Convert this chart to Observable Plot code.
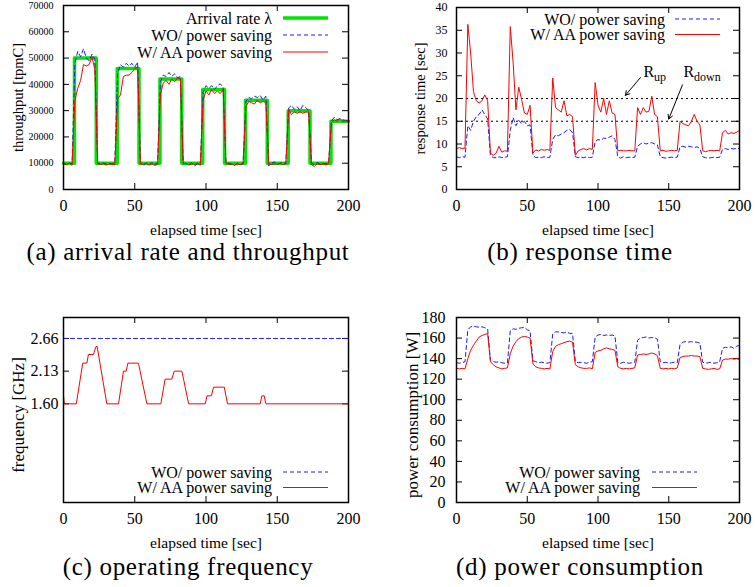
<!DOCTYPE html>
<html><head><meta charset="utf-8">
<script src="https://cdn.jsdelivr.net/npm/d3@7"></script>
<script src="https://cdn.jsdelivr.net/npm/@observablehq/plot@0.6"></script>
<style>
body{margin:0;background:#fff;}
#fig{position:relative;width:755px;height:587px;background:#fff;overflow:hidden;font-family:"Liberation Serif",serif;}
.panel{position:absolute;}
.cap{position:absolute;font-family:"Liberation Serif",serif;font-size:25px;letter-spacing:0.7px;white-space:nowrap;transform:translateX(-50%);line-height:30px;color:#000;}
</style></head><body><div id="fig"></div>
<script>
// ---------- shared ----------
const sampleTime = d3.range(0, 201, 2); // sample instants [sec]
const xTicks = [0, 50, 100, 150, 200];
const xTitle = "elapsed time [sec]";
const seriesNames = ["Arrival rate λ", "WO/ power saving", "W/ AA power saving"];
const captions = ["(a) arrival rate and throughput", "(b) response time", "(c) operating frequency", "(d) power consumption"];

// ---------- (a) arrival rate and throughput ----------
const arrivalTime = [0, 7.7, 23, 37.7, 53, 67.7, 83, 97.7, 113, 127.7, 143, 157.7, 173, 187.7, 200];
const arrivalRate = [10000, 50000, 10000, 46000, 10000, 42000, 10000, 38000, 10000, 34000, 10000, 30000, 10000, 26000, 26000];
const throughputWO = [
  10000, 9500, 10200, 9600, 48000, 52500, 50500, 53500, 50000, 49000,
  51500, 49500, 10000, 9800, 10100, 9700, 10000, 9800, 10000, 44000,
  47500, 46500, 48000, 47000, 48000, 46500, 48500, 10200, 9000, 10000,
  9200, 10300, 9500, 10000, 41000, 43500, 43000, 44500, 43000, 44000,
  42500, 43000, 10000, 9800, 9400, 10200, 9000, 9800, 9500, 37000,
  39500, 38500, 39500, 38000, 39500, 40200, 39000, 10300, 10000, 9500,
  9200, 10000, 9500, 9700, 33500, 35000, 34500, 35500, 35000, 35800,
  34000, 35500, 9000, 10000, 10500, 9500, 10000, 10300, 9800, 31000,
  32000, 30500, 31500, 30000, 32000, 31200, 30000, 10000, 9500, 10200,
  9700, 10000, 9800, 10000, 26000, 27500, 26500, 27000, 26500, 26200,
  26000];
const throughputAA = [
  9800, 9500, 10000, 9200, 34000, 38500, 41500, 47500, 47000, 47500,
  50500, 45500, 9800, 9500, 9800, 9300, 9700, 9500, 9400, 34500,
  36000, 43000, 43500, 43500, 44500, 46000, 46500, 9800, 9500, 10000,
  9300, 9800, 9200, 9500, 36000, 40500, 41500, 40000, 42000, 41000,
  42500, 42000, 9800, 10000, 9300, 9800, 9500, 10000, 9200, 34000,
  37500, 36000, 38000, 36500, 37500, 36500, 38000, 10000, 9500, 9800,
  9200, 9700, 9500, 9800, 31500, 33500, 33000, 32500, 34000, 33000,
  33500, 33000, 9800, 9500, 9800, 9600, 10000, 9400, 9800, 30500,
  28500, 29500, 29000, 29500, 29000, 29500, 29500, 9500, 8800, 9800,
  9500, 9700, 9400, 9800, 25500, 26500, 26000, 27000, 25800, 26200,
  25800];
const yTicksA = [0, 10000, 20000, 30000, 40000, 50000, 60000, 70000];

// ---------- (b) response time ----------
const responseWO = [
  7.2, 7.0, 7.2, 7.1, 14.0, 13.0, 15.0, 16.0, 16.5, 17.5,
  16.5, 15.5, 7.5, 7.0, 7.0, 7.2, 7.0, 7.1, 7.2, 13.0,
  15.8, 14.0, 15.2, 14.5, 15.0, 14.0, 14.2, 7.5, 7.0, 7.1,
  7.0, 7.2, 7.0, 7.1, 11.0, 12.0, 11.8, 12.2, 12.5, 13.0,
  13.2, 12.5, 7.2, 7.0, 7.1, 7.0, 7.2, 7.0, 7.1, 10.5,
  11.0, 10.8, 11.3, 11.2, 11.5, 11.8, 11.0, 7.2, 6.9, 7.2,
  7.0, 7.1, 7.0, 7.1, 9.5, 10.0, 10.3, 10.0, 10.2, 10.3,
  10.0, 9.8, 7.2, 7.0, 6.9, 7.0, 7.1, 7.0, 7.1, 9.4,
  9.5, 9.3, 9.5, 9.4, 9.2, 9.4, 9.0, 7.2, 7.0, 6.9,
  7.0, 7.1, 7.0, 7.1, 8.8, 9.0, 8.8, 9.0, 8.9, 9.1,
  9.0];
const responseAA = [
  9.0, 9.2, 9.0, 9.1, 36.3, 30.0, 21.5, 19.5, 19.0, 19.5,
  20.8, 19.5, 8.0, 7.5, 8.0, 9.5, 8.2, 8.5, 8.4, 35.8,
  28.0, 17.5, 22.5, 19.8, 16.8, 16.5, 18.5, 8.0, 8.7, 8.5,
  8.8, 8.6, 8.8, 8.6, 24.5, 18.0, 17.5, 17.0, 19.5, 16.2,
  16.5, 16.0, 7.5, 8.5, 8.8, 9.0, 8.7, 9.0, 8.8, 23.5,
  18.5, 17.0, 20.0, 16.5, 19.5, 16.8, 16.5, 8.5, 8.6, 8.5,
  8.5, 8.6, 8.5, 8.5, 18.0, 16.5, 18.0, 17.0, 17.2, 20.5,
  16.5, 16.0, 8.5, 8.6, 8.4, 8.5, 8.6, 8.5, 8.6, 15.0,
  14.5, 14.2, 14.0, 15.0, 16.5, 15.0, 14.2, 8.5, 8.3, 8.5,
  8.6, 8.5, 8.6, 8.5, 12.5, 13.0, 12.2, 12.5, 12.3, 12.6,
  13.0];
const yTicksB = [0, 5, 10, 15, 20, 25, 30, 35, 40];
const thresholds = [20, 15];            // R_up, R_down
const annoMain = ["R", "R"];
const annoSub = ["up", "down"];
const annoTextT = [132.2, 160.4];
const annoTextY = [25.8, 25.8];
const arrowT1 = [130, 159.7], arrowY1 = [24.6, 23.0];
const arrowT2 = [119.4, 150], arrowY2 = [20.7, 15.5];

// ---------- (c) operating frequency ----------
const freqWOTime = [0, 200];
const freqWO = [2.66, 2.66];
const freqAATime = [0, 0.6, 9, 13.5, 16.4, 17.5, 21, 22.8, 23.6, 30.4, 38.6, 42.1, 44, 45.2, 52.6, 58.5, 68.3, 71.3, 76, 77.7, 83.1, 87.8, 99.5, 100.7, 103.8, 105.3, 112.8, 115.1, 138, 139.2, 140.8, 142, 200];
const freqAA = [1.73, 1.60, 1.60, 2.26, 2.26, 2.40, 2.40, 2.53, 2.53, 1.60, 1.60, 2.13, 2.13, 2.26, 2.26, 1.60, 1.60, 2.00, 2.00, 2.13, 2.13, 1.60, 1.60, 1.73, 1.73, 1.87, 1.87, 1.60, 1.60, 1.73, 1.73, 1.60, 1.60];
const yTicksC = [1.60, 2.13, 2.66];

// ---------- (d) power consumption ----------
const powerWO = [
  136, 135.5, 136, 137, 168, 171, 171.5, 171, 170.5, 171,
  170, 169, 138, 137, 136.5, 137, 136, 135.5, 136, 167,
  169, 168.5, 169.5, 170, 170.5, 168, 167, 138, 137, 136,
  136.5, 136, 135.5, 136, 164, 166, 166, 165.5, 165, 166,
  164.5, 164.5, 137, 136, 136.5, 136, 135.5, 136.5, 137, 161,
  163, 163.5, 162.5, 163, 162.5, 163, 162, 136, 135.5, 136.5,
  136, 135.5, 136, 136.5, 158, 160, 160.5, 161, 160, 160.5,
  160, 159, 137, 136, 136.5, 135.5, 136, 136.5, 136, 154,
  156, 156.5, 156, 156.5, 156, 156, 155, 136.5, 135.5, 136,
  136.5, 135.5, 136, 137, 150, 151, 150.5, 151.5, 150, 152,
  153];
const powerAA = [
  130.5, 130, 130.5, 130, 140, 148, 153, 157, 161, 162.5,
  163.5, 164.5, 137, 134, 132, 131, 130, 130.5, 131, 145,
  152, 156.5, 159.5, 161, 161.5, 161, 160, 135, 132, 131,
  130.5, 130, 130.5, 130, 147, 152, 153.5, 154.5, 155.5, 156.5,
  157, 156, 134, 132, 131, 130.5, 130.5, 131, 130, 146,
  147.5, 148, 149.5, 150.5, 149.5, 149, 148, 132, 130.5, 130,
  130.5, 130, 130.5, 131, 143.5, 144, 144.5, 144, 144.5, 145.5,
  144.5, 143, 130.5, 130, 130.5, 130, 130.5, 130, 131, 141,
  142, 142.5, 142.5, 143, 142.5, 142.5, 142, 130.5, 130, 129.5,
  130, 130.5, 129.5, 130, 138.5, 139.5, 139.5, 140, 139.5, 140,
  139];
const yTicksD = [0, 20, 40, 60, 80, 100, 120, 140, 160, 180];

// ---------- styles ----------
const GREEN = "#00e400", BLUE = "#1a1aff", RED = "#ff0000";
const DASH = "4,3";
const SERIF = "'Liberation Serif', serif";

// ---------- helpers ----------
function legendMark(items, o) {
  return (index, scales, values, dims) => {
    const g = d3.create("svg:g").attr("font-family", SERIF).attr("font-size", o.fontSize);
    const right = dims.width - dims.marginRight;
    const y0 = o.fromBottom != null ? dims.height - dims.marginBottom - o.fromBottom : dims.marginTop + o.top;
    items.forEach((it, i) => {
      const y = y0 + i * o.rowH;
      g.append("text").attr("x", right - o.textRight).attr("y", y).attr("dy", "0.35em")
        .attr("text-anchor", "end").attr("fill", "black").text(it.label);
      g.append("line").attr("x1", right - o.lineFrom).attr("x2", right - o.lineTo)
        .attr("y1", y).attr("y2", y).attr("stroke", it.color).attr("stroke-width", it.width)
        .attr("stroke-dasharray", it.dash || null);
    });
    return g.node();
  };
}

function baseMarks(o) {
  const innerW = o.width - o.ml - o.mr, innerH = o.height - o.mt - o.mb;
  return [
    Plot.ruleX(xTicks, {x: d => d, insetTop: innerH - 6, stroke: "black"}),
    Plot.ruleX(xTicks, {x: d => d, insetBottom: innerH - 6, stroke: "black"}),
    Plot.ruleY(o.yTicks, {y: d => d, insetRight: innerW - 6, stroke: "black"}),
    Plot.ruleY(o.yTicks, {y: d => d, insetLeft: innerW - 6, stroke: "black"}),
    Plot.axisX({ticks: xTicks, tickSize: 0, tickPadding: 10, fontSize: 16, label: null, tickFormat: d3.format("d")}),
    Plot.axisY({ticks: o.yTicks, tickSize: 0, tickPadding: o.yPad, fontSize: o.yFont, label: null, tickFormat: o.yFmt}),
    Plot.text([xTitle], {text: d => d, frameAnchor: "bottom", dy: 41, fontSize: 15.5, lineAnchor: "middle", textAnchor: "middle"}),
    Plot.text([o.yTitle], {text: d => d, frameAnchor: "left", rotate: -90, dx: o.yTitleDx, dy: o.yTitleDy || 0,
      fontSize: o.yTitleSize, lineAnchor: "middle", textAnchor: "middle"})
  ];
}

function makePanel(o, marks) {
  const chart = Plot.plot({
    width: o.width, height: o.height,
    marginLeft: o.ml, marginRight: o.mr, marginTop: o.mt, marginBottom: o.mb,
    x: {domain: [0, 200]},
    y: {domain: o.yDomain},
    style: {fontFamily: SERIF, fontSize: "16px", background: "transparent", overflow: "visible", color: "black"},
    marks: [...baseMarks(o), ...marks, Plot.frame({stroke: "black", strokeWidth: 1.5})]
  });
  const div = document.createElement("div");
  div.className = "panel";
  div.style.left = o.left + "px";
  div.style.top = o.top + "px";
  div.appendChild(chart);
  document.getElementById("fig").appendChild(div);
}

function addCaption(text, cx, top) {
  const d = document.createElement("div");
  d.className = "cap";
  d.style.left = cx + "px";
  d.style.top = top + "px";
  d.textContent = text;
  document.getElementById("fig").appendChild(d);
}

// ---------- build records ----------
const recA = sampleTime.map((t, i) => ({t, wo: throughputWO[i], aa: throughputAA[i]}));
const recArr = arrivalTime.map((t, i) => ({t, v: arrivalRate[i]}));
const recB = sampleTime.map((t, i) => ({t, wo: responseWO[i], aa: responseAA[i]}));
const recCWO = freqWOTime.map((t, i) => ({t, v: freqWO[i]}));
const recCAA = freqAATime.map((t, i) => ({t, v: freqAA[i]}));
const recD = sampleTime.map((t, i) => ({t, wo: powerWO[i], aa: powerAA[i]}));
const anno = annoMain.map((m, i) => ({m, s: annoSub[i], t: annoTextT[i], y: annoTextY[i], x1: arrowT1[i], y1: arrowY1[i], x2: arrowT2[i], y2: arrowY2[i]}));

// ---------- panel (a) ----------
makePanel({left: 0, top: 0, width: 378, height: 240, ml: 63, mr: 30, mt: 5, mb: 51,
  yDomain: [0, 70000], yTicks: yTicksA, yFmt: d3.format("d"), yFont: 10, yPad: 10,
  yTitle: "throughput [tpmC]", yTitleDx: -45, yTitleSize: 14.5}, [
  Plot.line(recArr, {x: "t", y: "v", curve: "step-after", stroke: GREEN, strokeWidth: 3.5}),
  Plot.line(recA, {x: "t", y: "wo", stroke: BLUE, strokeWidth: 1, strokeDasharray: DASH}),
  Plot.line(recA, {x: "t", y: "aa", stroke: RED, strokeWidth: 1}),
  legendMark([
    {label: seriesNames[0], color: GREEN, width: 3.5},
    {label: seriesNames[1], color: BLUE, width: 1, dash: DASH},
    {label: seriesNames[2], color: RED, width: 1}
  ], {fontSize: 16, textRight: 76, lineFrom: 65, lineTo: 20, top: 13, rowH: 17})
]);

// ---------- panel (b) ----------
makePanel({left: 378, top: 0, width: 377, height: 240, ml: 78, mr: 16, mt: 7, mb: 51,
  yDomain: [0, 40], yTicks: yTicksB, yFmt: d3.format("d"), yFont: 12, yPad: 9,
  yTitle: "response time [sec]", yTitleDx: -36, yTitleSize: 14.5}, [
  Plot.ruleY(thresholds, {y: d => d, stroke: "black", strokeWidth: 1, strokeDasharray: "2,3"}),
  Plot.line(recB, {x: "t", y: "wo", stroke: BLUE, strokeWidth: 1, strokeDasharray: DASH}),
  Plot.line(recB, {x: "t", y: "aa", stroke: RED, strokeWidth: 1}),
  Plot.arrow(anno, {x1: "x1", y1: "y1", x2: "x2", y2: "y2", stroke: "black", strokeWidth: 1, headLength: 7}),
  Plot.text(anno, {x: "t", y: "y", text: "m", textAnchor: "start", fontSize: 16}),
  Plot.text(anno, {x: "t", y: "y", text: "s", textAnchor: "start", fontSize: 12, dx: 10.5, dy: 5}),
  legendMark([
    {label: seriesNames[1], color: BLUE, width: 1, dash: DASH},
    {label: seriesNames[2], color: RED, width: 1}
  ], {fontSize: 16, textRight: 74, lineFrom: 64, lineTo: 19, top: 12, rowH: 15.5})
]);

// ---------- panel (c) ----------
makePanel({left: 0, top: 300, width: 378, height: 250, ml: 63, mr: 30, mt: 17, mb: 48,
  yDomain: [0, 3], yTicks: yTicksC, yFmt: d3.format(".2f"), yFont: 16, yPad: 5,
  yTitle: "frequency [GHz]", yTitleDx: -45, yTitleDy: 5, yTitleSize: 17}, [
  Plot.line(recCWO, {x: "t", y: "v", stroke: BLUE, strokeWidth: 1, strokeDasharray: DASH}),
  Plot.line(recCAA, {x: "t", y: "v", stroke: RED, strokeWidth: 1}),
  legendMark([
    {label: seriesNames[1], color: BLUE, width: 1, dash: DASH},
    {label: seriesNames[2], color: RED, width: 1}
  ], {fontSize: 16, textRight: 76, lineFrom: 65, lineTo: 20, fromBottom: 30, rowH: 15.5})
]);

// ---------- panel (d) ----------
makePanel({left: 378, top: 300, width: 377, height: 250, ml: 78, mr: 16, mt: 17, mb: 48,
  yDomain: [0, 180], yTicks: yTicksD, yFmt: d3.format("d"), yFont: 16, yPad: 11,
  yTitle: "power consumption [W]", yTitleDx: -44, yTitleDy: 5, yTitleSize: 17}, [
  Plot.line(recD, {x: "t", y: "wo", stroke: BLUE, strokeWidth: 1, strokeDasharray: DASH}),
  Plot.line(recD, {x: "t", y: "aa", stroke: RED, strokeWidth: 1}),
  legendMark([
    {label: seriesNames[1], color: BLUE, width: 1, dash: DASH},
    {label: seriesNames[2], color: RED, width: 1}
  ], {fontSize: 16, textRight: 99, lineFrom: 87, lineTo: 42, fromBottom: 30, rowH: 15.5})
]);

// ---------- captions ----------
addCaption(captions[0], 188, 237);
addCaption(captions[1], 580, 237);
addCaption(captions[2], 188, 552);
addCaption(captions[3], 580, 552);
</script></body></html>
